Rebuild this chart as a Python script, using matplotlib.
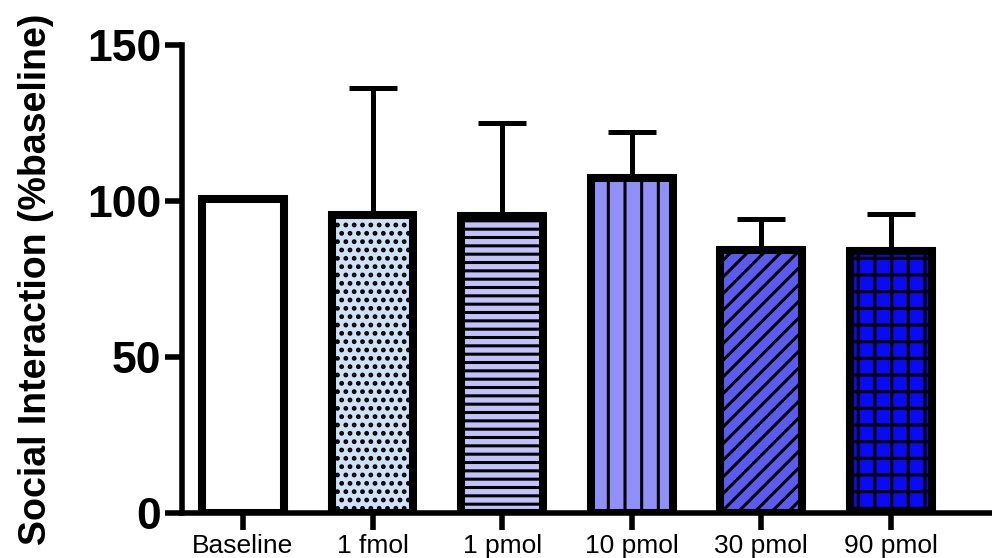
import numpy as np
import matplotlib.pyplot as plt

plt.rcParams['font.family'] = ['Liberation Sans', 'DejaVu Sans']
plt.rcParams['hatch.linewidth'] = 2.2

groups = ["Baseline", "1 fmol", "1 pmol", "10 pmol", "30 pmol", "90 pmol"]
means = [100.5, 95.5, 95.3, 107.3, 84.3, 84.0]
sem = [0, 40.7, 29.7, 14.7, 9.9, 11.8]
fills = ["#ffffff", "#cfe1f7", "#c2c2fb", "#9090f8", "#5b5bf0", "#0a0af5"]
hatches = ["", "..", "--", "|", "//", "+"]

fig = plt.figure(figsize=(9.92, 5.58), dpi=100)
ax = fig.add_axes([0.1835, 0.0806, 0.8165, 0.8388])

x = np.arange(len(groups))
for i in range(len(groups)):
    ax.bar(x[i], means[i], width=0.63, color=fills[i], edgecolor="black",
           linewidth=5.8, hatch=hatches[i], zorder=2)
    if sem[i] > 0:
        ax.errorbar(x[i], means[i], yerr=[[0], [sem[i]]], fmt="none",
                    ecolor="black", elinewidth=3.6, capsize=17.5,
                    capthick=3.6, zorder=1)

ax.set_xlim(-0.47, 5.78)
ax.set_ylim(0, 150)
ax.set_yticks([0, 50, 100, 150])
ax.set_xticks(x)
ax.set_xticklabels(groups, fontsize=19)
for lab in ax.get_yticklabels():
    lab.set_fontsize(32)
    lab.set_fontweight("bold")
ax.set_ylabel("Social Interaction (%baseline)", fontsize=27, fontweight="bold",
              labelpad=24)

for s in ["top", "right"]:
    ax.spines[s].set_visible(False)
for s in ["left", "bottom"]:
    ax.spines[s].set_linewidth(4)
ax.tick_params(axis="both", width=4, length=12, pad=3)

fig.savefig("out.png", dpi=100)
